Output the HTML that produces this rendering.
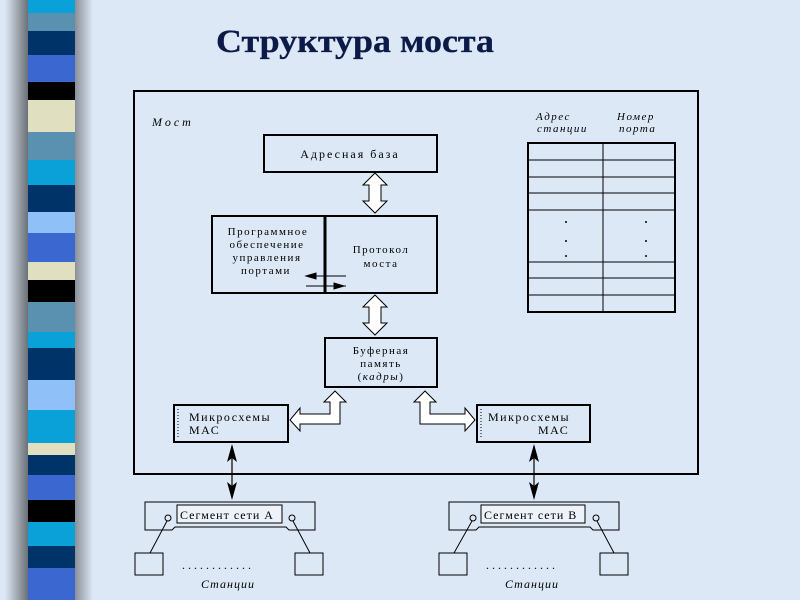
<!DOCTYPE html>
<html><head><meta charset="utf-8"><style>
body{margin:0;width:800px;height:600px;overflow:hidden;background:#dce8f6}
svg{display:block}
text{font-family:"Liberation Serif",serif;fill:#000}
</style></head><body>
<svg width="800" height="600" viewBox="0 0 800 600" xmlns="http://www.w3.org/2000/svg">
<defs>
<linearGradient id="sh" x1="0" x2="1"><stop offset="0" stop-color="#dce8f6"/><stop offset="0.6" stop-color="#9aa0a8"/><stop offset="1" stop-color="#6a7078"/></linearGradient>
<linearGradient id="sh2" x1="0" x2="1"><stop offset="0" stop-color="#8a9098"/><stop offset="1" stop-color="#dce8f6"/></linearGradient>
</defs>
<rect width="800" height="600" fill="#dce8f6"/>
<rect x="5" y="0" width="23" height="600" fill="url(#sh)"/>
<rect x="75" y="0" width="18" height="600" fill="url(#sh2)"/>
<g>
<rect x="28" y="0" width="47" height="13" fill="#0aa0d8"/>
<rect x="28" y="13" width="47" height="18" fill="#5a90b0"/>
<rect x="28" y="31" width="47" height="24" fill="#003468"/>
<rect x="28" y="55" width="47" height="27" fill="#3a68d0"/>
<rect x="28" y="82" width="47" height="18" fill="#000"/>
<rect x="28" y="100" width="47" height="32" fill="#e0e0c0"/>
<rect x="28" y="132" width="47" height="28" fill="#5a90b0"/>
<rect x="28" y="160" width="47" height="25" fill="#0aa0d8"/>
<rect x="28" y="185" width="47" height="27" fill="#003468"/>
<rect x="28" y="212" width="47" height="21" fill="#90c0f8"/>
<rect x="28" y="233" width="47" height="29" fill="#3a68d0"/>
<rect x="28" y="262" width="47" height="18" fill="#e0e0c0"/>
<rect x="28" y="280" width="47" height="22" fill="#000"/>
<rect x="28" y="302" width="47" height="30" fill="#5a90b0"/>
<rect x="28" y="332" width="47" height="16" fill="#0aa0d8"/>
<rect x="28" y="348" width="47" height="32" fill="#003468"/>
<rect x="28" y="380" width="47" height="30" fill="#90c0f8"/>
<rect x="28" y="410" width="47" height="33" fill="#0aa0d8"/>
<rect x="28" y="443" width="47" height="12" fill="#e0e0c0"/>
<rect x="28" y="455" width="47" height="20" fill="#003468"/>
<rect x="28" y="475" width="47" height="25" fill="#3a68d0"/>
<rect x="28" y="500" width="47" height="22" fill="#000"/>
<rect x="28" y="522" width="47" height="24" fill="#0aa0d8"/>
<rect x="28" y="546" width="47" height="22" fill="#003468"/>
<rect x="28" y="568" width="47" height="32" fill="#3a68d0"/>
</g>
<text x="216" y="52" font-size="33" font-weight="bold" textLength="278" lengthAdjust="spacingAndGlyphs" style="fill:#0c1a48;stroke:#0c1a48;stroke-width:0.3">Структура моста</text>

<g fill="none" stroke="#000">
<rect x="134" y="91" width="564" height="383" stroke-width="2"/>
<rect x="264" y="135" width="173" height="37" stroke-width="2"/>
<rect x="212" y="216" width="225" height="77" stroke-width="2"/>
<line x1="325" y1="216" x2="325" y2="293" stroke-width="3"/>
<rect x="325" y="338" width="112" height="49" stroke-width="2"/>
<rect x="174" y="405" width="114" height="37" stroke-width="2"/>
<rect x="477" y="405" width="113" height="37" stroke-width="2"/>
<line x1="178" y1="409" x2="178" y2="438" stroke-dasharray="1,2" stroke-width="1"/>
<line x1="481" y1="409" x2="481" y2="438" stroke-dasharray="1,2" stroke-width="1"/>
<!-- table -->
<rect x="528" y="143" width="147" height="169" stroke-width="2"/>
<line x1="603" y1="143" x2="603" y2="312"/>
<path d="M528 160H675M528 177H675M528 193H675M528 210H675M528 262H675M528 278H675M528 295H675"/>
</g>
<g fill="#000">
<circle cx="566" cy="222" r="1"/><circle cx="566" cy="241" r="1"/><circle cx="566" cy="256" r="1"/>
<circle cx="646" cy="222" r="1"/><circle cx="646" cy="241" r="1"/><circle cx="646" cy="256" r="1"/>
</g>
<!-- double arrows -->
<g fill="#fff" stroke="#000" stroke-width="1">
<path d="M375 173L387 185H381V201H387L375 213L363 201H369V185H363Z"/>
<path d="M375 295L387 307H381V323H387L375 335L363 323H369V307H363Z"/>
<path d="M335 391L346 402H340V424H300V431L290 420L300 408V414H330V402H324Z"/>
<path d="M425 391L436 402H430V414H465V408L475 420L465 431V424H420V402H414Z"/>
</g>
<!-- small arrows -->
<g stroke="#000" stroke-width="1">
<line x1="306" y1="276" x2="346" y2="276"/>
<path d="M306 276L316 273V279Z" fill="#000"/>
<line x1="306" y1="286" x2="346" y2="286"/>
<path d="M344 286L334 283V289Z" fill="#000"/>
</g>
<!-- vertical arrows -->
<g stroke="#000" stroke-width="1.2">
<line x1="232" y1="446" x2="232" y2="498"/>
<line x1="534" y1="446" x2="534" y2="498"/>
</g>
<g fill="#000">
<path d="M232 444L237 462L232 458L227 462Z"/><path d="M232 500L237 482L232 486L227 482Z"/>
<path d="M534 444L539 462L534 458L529 462Z"/><path d="M534 500L539 482L534 486L529 482Z"/>
</g>
<!-- segments -->
<g fill="none" stroke="#000" stroke-width="1">
<path d="M145 502H315V530H289L286 527H175L172 530H145Z"/>
<rect x="177" y="505" width="105" height="18" fill="#eef2fa"/>
<path d="M449 502H619V530H593L590 527H479L476 530H449Z"/>
<rect x="481" y="505" width="104" height="18" fill="#eef2fa"/>
<circle cx="168" cy="518" r="3"/><circle cx="292" cy="518" r="3"/>
<circle cx="473" cy="518" r="3"/><circle cx="596" cy="518" r="3"/>
<line x1="167" y1="521" x2="150" y2="553"/><line x1="293" y1="521" x2="310" y2="553"/>
<line x1="472" y1="521" x2="454" y2="553"/><line x1="597" y1="521" x2="614" y2="553"/>
<rect x="135" y="553" width="28" height="22"/><rect x="295" y="553" width="28" height="22"/>
<rect x="439" y="553" width="28" height="22"/><rect x="600" y="553" width="28" height="22"/>
</g>
<g font-size="12">
<text x="152" y="126" font-style="italic" letter-spacing="3">Мост</text>
<text x="536" y="120" font-size="11" font-style="italic" letter-spacing="1.5">Адрес</text>
<text x="537" y="132" font-size="11" font-style="italic" letter-spacing="1.5">станции</text>
<text x="617" y="120" font-size="11" font-style="italic" letter-spacing="1.5">Номер</text>
<text x="619" y="132" font-size="11" font-style="italic" letter-spacing="1.5">порта</text>
<text x="350" y="158" text-anchor="middle" letter-spacing="2">Адресная база</text>
<text x="268" y="235" text-anchor="middle" font-size="11" letter-spacing="1.5">Программное</text>
<text x="267" y="248" text-anchor="middle" font-size="11" letter-spacing="1.5">обеспечение</text>
<text x="267" y="261" text-anchor="middle" font-size="11" letter-spacing="1.5">управления</text>
<text x="266" y="274" text-anchor="middle" font-size="11" letter-spacing="1.5">портами</text>
<text x="381" y="253" text-anchor="middle" font-size="11" letter-spacing="1.5">Протокол</text>
<text x="381" y="267" text-anchor="middle" font-size="11" letter-spacing="1.5">моста</text>
<text x="381" y="354" text-anchor="middle" font-size="11" letter-spacing="1.5">Буферная</text>
<text x="381" y="367" text-anchor="middle" font-size="11" letter-spacing="1.5">память</text>
<text x="381" y="380" text-anchor="middle" font-size="11" letter-spacing="1.5">(<tspan font-style="italic">кадры</tspan>)</text>
<text x="189" y="421" letter-spacing="1.5">Микросхемы</text>
<text x="189" y="434" letter-spacing="1.5">МАС</text>
<text x="488" y="421" letter-spacing="1.5">Микросхемы</text>
<text x="538" y="434" letter-spacing="1.5">МАС</text>
<text x="180" y="519" letter-spacing="1">Сегмент сети А</text>
<text x="484" y="519" letter-spacing="1">Сегмент сети В</text>
<text x="182" y="569" letter-spacing="3">............</text>
<text x="486" y="569" letter-spacing="3">............</text>
<text x="201" y="588" font-style="italic" letter-spacing="1">Станции</text>
<text x="505" y="588" font-style="italic" letter-spacing="1">Станции</text>
</g>
</svg>
</body></html>
